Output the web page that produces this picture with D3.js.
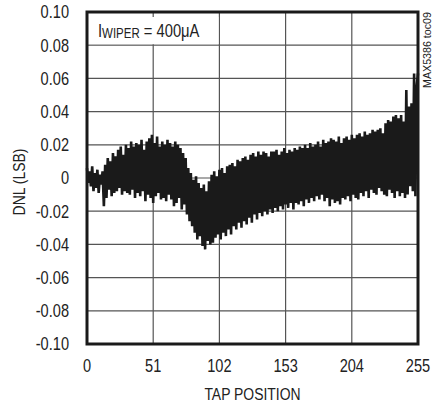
<!DOCTYPE html>
<html>
<head>
<meta charset="utf-8">
<script src="https://cdn.jsdelivr.net/npm/d3@7"></script>
<style>
  body { margin: 0; background: #fff; }
  text { font-family: "Liberation Sans", Arial, Helvetica, sans-serif; fill: #222; }
</style>
</head>
<body>
<div class="canvas"></div>
<script>
// tick labels
const xTicks = [0, 51, 102, 153, 204, 255];
const yTicks = [-0.1, -0.08, -0.06, -0.04, -0.02, 0, 0.02, 0.04, 0.06, 0.08, 0.1];
const yTickLabels = ["-0.10", "-0.08", "-0.06", "-0.04", "-0.02", "0", "0.02", "0.04", "0.06", "0.08", "0.10"];

// DNL per tap position, in LSB (taps 0..255)
const dnl = [
  0.006, -0.003, 0.004, -0.005, 0.007, -0.008, 0.003, -0.006, 0.005, -0.009, 0.002, -0.004, 0.004, -0.017, 0.008, -0.012,
  0.012, -0.007, 0.010, -0.011, 0.015, -0.009, 0.013, -0.008, 0.017, -0.006, 0.019, -0.010, 0.014, -0.008, 0.020, -0.009,
  0.018, -0.010, 0.022, -0.007, 0.019, -0.012, 0.021, -0.009, 0.020, -0.011, 0.023, -0.008, 0.017, -0.014, 0.022, -0.010,
  0.024, -0.012, 0.026, -0.015, 0.021, -0.011, 0.025, -0.009, 0.019, -0.013, 0.022, -0.012, 0.020, -0.014, 0.023, -0.010,
  0.021, -0.013, 0.019, -0.017, 0.022, -0.015, 0.020, -0.012, 0.018, -0.019, 0.015, -0.016, 0.012, -0.022, 0.006, -0.026,
  0.003, -0.029, -0.001, -0.033, 0.001, -0.037, -0.003, -0.035, -0.006, -0.041, -0.004, -0.043, -0.008, -0.038, -0.002, -0.040,
  0.002, -0.039, 0.004, -0.036, 0.001, -0.034, 0.005, -0.037, 0.006, -0.033, 0.003, -0.035, 0.007, -0.031, 0.008, -0.034,
  0.009, -0.029, 0.007, -0.031, 0.011, -0.027, 0.010, -0.030, 0.012, -0.026, 0.013, -0.028, 0.011, -0.024, 0.014, -0.027,
  0.015, -0.022, 0.013, -0.025, 0.016, -0.021, 0.014, -0.023, 0.016, -0.020, 0.015, -0.022, 0.013, -0.019, 0.016, -0.021,
  0.016, -0.018, 0.017, -0.020, 0.014, -0.017, 0.016, -0.019, 0.018, -0.016, 0.015, -0.018, 0.017, -0.015, 0.016, -0.019,
  0.018, -0.015, 0.017, -0.016, 0.019, -0.014, 0.018, -0.017, 0.020, -0.013, 0.018, -0.015, 0.021, -0.012, 0.019, -0.014,
  0.020, -0.011, 0.022, -0.013, 0.019, -0.010, 0.023, -0.014, 0.021, -0.012, 0.022, -0.017, 0.024, -0.013, 0.023, -0.015,
  0.022, -0.014, 0.025, -0.016, 0.021, -0.012, 0.024, -0.013, 0.025, -0.011, 0.023, -0.014, 0.026, -0.010, 0.024, -0.012,
  0.026, -0.013, 0.027, -0.009, 0.025, -0.011, 0.028, -0.008, 0.026, -0.012, 0.027, -0.007, 0.029, -0.009, 0.028, -0.010,
  0.029, -0.006, 0.030, -0.008, 0.027, -0.010, 0.033, -0.011, 0.035, -0.007, 0.034, -0.009, 0.037, -0.012, 0.038, -0.008,
  0.036, -0.011, 0.038, -0.009, 0.034, -0.012, 0.053, -0.010, 0.043, -0.005, 0.045, -0.008, 0.063, -0.011, 0.055, 0.063
];

const width = 441, height = 404;
const plot = { left: 87, right: 418, top: 12, bottom: 344 };
const squeeze = 0.82; // condensed lettering

const svg = d3.select(".canvas")
  .append("svg")
  .attr("width", width)
  .attr("height", height);

const x = d3.scaleLinear().domain([0, 255]).range([plot.left, plot.right]);
const y = d3.scaleLinear().domain([-0.1, 0.1]).range([plot.bottom, plot.top]);

// narrow text helper
const label = (px, py, txt, size, anchor, rot = 0) =>
  svg.append("g")
    .attr("transform", `translate(${px},${py}) rotate(${rot}) scale(${squeeze},1)`)
    .append("text")
    .attr("text-anchor", anchor)
    .attr("font-size", size)
    .text(txt);

// grid
svg.append("g")
  .selectAll("line")
  .data(xTicks.slice(1, -1))
  .join("line")
  .attr("x1", d => x(d)).attr("x2", d => x(d))
  .attr("y1", plot.top).attr("y2", plot.bottom)
  .attr("stroke", "#555").attr("stroke-width", 1.2);

svg.append("g")
  .selectAll("line")
  .data(yTicks.slice(1, -1))
  .join("line")
  .attr("x1", plot.left).attr("x2", plot.right)
  .attr("y1", d => y(d)).attr("y2", d => y(d))
  .attr("stroke", "#555").attr("stroke-width", 1.2);

// data trace
const line = d3.line()
  .x((d, i) => x(i))
  .y(d => y(d));

svg.append("path")
  .datum(dnl)
  .attr("d", line)
  .attr("fill", "none")
  .attr("stroke", "#1a1a1a")
  .attr("stroke-width", 2.6)
  .attr("stroke-linejoin", "miter");

// legend box covering the top-left cell
svg.append("rect")
  .attr("x", plot.left + 1)
  .attr("y", plot.top + 5)
  .attr("width", x(102) - plot.left - 2)
  .attr("height", y(0.08) - plot.top - 6)
  .attr("fill", "#fff");

const leg = svg.append("g")
  .attr("transform", `translate(98,37) scale(${squeeze},1)`)
  .append("text")
  .attr("font-size", 18);
leg.append("tspan").text("I");
leg.append("tspan").attr("font-size", 14).attr("dy", 1).text("WIPER");
leg.append("tspan").attr("dy", -1).text(" = 400\u03bcA");

// frame
svg.append("rect")
  .attr("x", plot.left)
  .attr("y", plot.top)
  .attr("width", plot.right - plot.left)
  .attr("height", plot.bottom - plot.top)
  .attr("fill", "none")
  .attr("stroke", "#1a1a1a")
  .attr("stroke-width", 3);

// tick labels
yTicks.forEach((d, i) => label(69, y(d) + 6.3, yTickLabels[i], 17.8, "end"));
xTicks.forEach(d => label(x(d), 372, d, 17.8, "middle"));

// axis titles
label((plot.left + plot.right) / 2, 400, "TAP POSITION", 17, "middle");
label(25, 182, "DNL (LSB)", 17, "middle", -90);

svg.append("g")
  .attr("transform", `translate(431,12) rotate(-90)`)
  .append("text")
  .attr("text-anchor", "end")
  .attr("font-size", 10.5)
  .attr("textLength", 76)
  .attr("lengthAdjust", "spacingAndGlyphs")
  .text("MAX5386 toc09");
</script>
</body>
</html>
